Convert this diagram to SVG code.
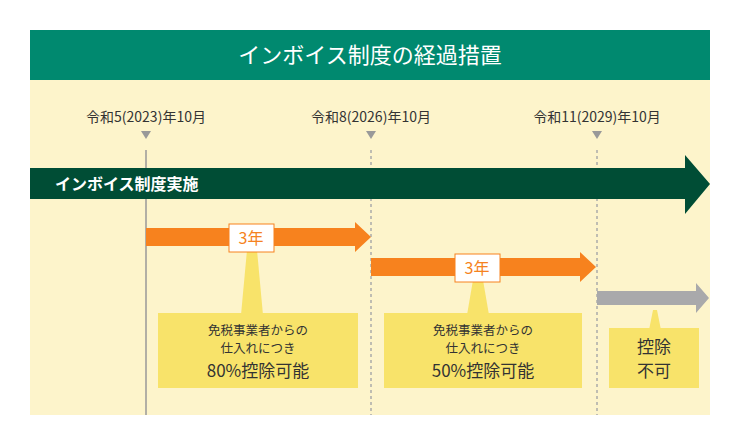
<svg xmlns="http://www.w3.org/2000/svg" width="740" height="445" viewBox="0 0 740 445">
<style>
text{font-family:"Noto Sans CJK JP","Noto Sans",sans-serif;}
.d{font-size:14px;fill:#333;text-anchor:middle}
.s{font-size:12.5px;fill:#333;text-anchor:middle}
.b{font-size:17px;fill:#333;text-anchor:middle}
.y{fill:#F8E36A}
.l{font-size:16px;fill:#F58220;text-anchor:middle}
.tri{fill:#999}
</style>
<rect x="0" y="0" width="740" height="445" fill="#fff"/>
<rect x="30" y="30" width="680" height="385" fill="#FDF4CB"/>
<g id="header"><rect x="30" y="30" width="680" height="50" fill="#00896F"/>
<text x="370" y="63" font-size="22" fill="#fff" text-anchor="middle">インボイス制度の経過措置</text></g>
<g id="connectors">
<line x1="146" y1="150" x2="146" y2="415" stroke="#999" stroke-width="1.5"/>
<line x1="371" y1="150" x2="371" y2="415" stroke="#aaa" stroke-width="1.5" stroke-dasharray="3,3"/>
<line x1="597" y1="150" x2="597" y2="415" stroke="#aaa" stroke-width="1.5" stroke-dasharray="3,3"/>
</g>
<g id="dates">
<text class="d" x="146" y="122">令和5(2023)年10月</text>
<text class="d" x="371" y="122">令和8(2026)年10月</text>
<text class="d" x="597" y="122">令和11(2029)年10月</text>
<polygon class="tri" points="141,131 151,131 146,139"/>
<polygon class="tri" points="366,131 376,131 371,139"/>
<polygon class="tri" points="592,131 602,131 597,139"/>
</g>
<g id="main"><polygon points="30,168 685,168 685,155 710,184 685,214 685,199 30,199" fill="#004D35"/>
<text x="55" y="190" font-size="16" font-weight="bold" fill="#fff">インボイス制度実施</text></g>
<g id="p1">
<polygon points="146,228 355,228 355,222 371,237 355,252 355,246 146,246" fill="#F7821E"/>
<polygon points="247,250 257,250 263,315 241,315" class="y"/>
<rect x="229" y="224" width="45" height="28" fill="#fff" stroke="#F7821E"/>
<text class="l" x="251" y="244">3年</text>
<rect x="158" y="313" width="200" height="75" class="y"/>
<text class="s" x="258" y="335">免税事業者からの</text>
<text class="s" x="258" y="353">仕入れにつき</text>
<text class="b" x="258" y="377">80%控除可能</text>
</g>
<g id="p2">
<polygon points="371,258 580,258 580,252 596,267 580,282 580,276 371,276" fill="#F7821E"/>
<polygon points="473,280 483,280 489,315 467,315" class="y"/>
<rect x="455" y="254" width="45" height="28" fill="#fff" stroke="#F7821E"/>
<text class="l" x="477" y="274">3年</text>
<rect x="384" y="313" width="198" height="75" class="y"/>
<text class="s" x="483" y="335">免税事業者からの</text>
<text class="s" x="483" y="353">仕入れにつき</text>
<text class="b" x="483" y="377">50%控除可能</text>
</g>
<g id="p3">
<polygon points="597,291 696,291 696,283 709,298 696,313 696,305 597,305" fill="#A9A9AB"/>
<polygon points="653,310 657,310 661,330 649,330" class="y"/>
<rect x="609" y="328" width="90" height="60" class="y"/>
<text class="b" x="654" y="353">控除</text>
<text class="b" x="654" y="377">不可</text>
</g>
</svg>
